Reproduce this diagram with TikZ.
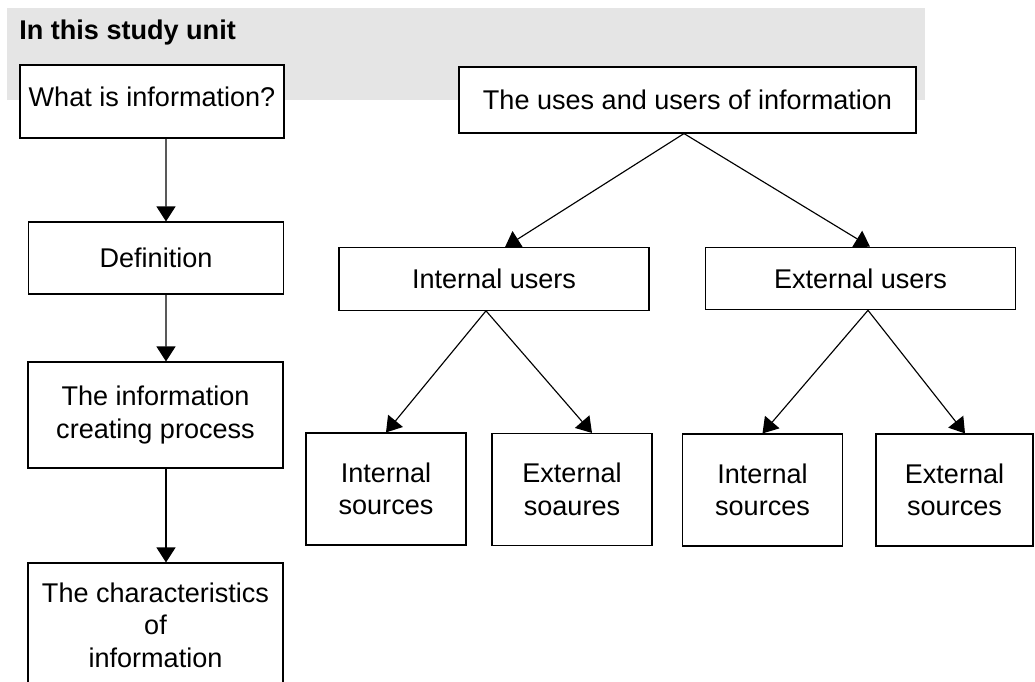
\documentclass[tikz,border=0pt]{standalone}
\usepackage{fontspec}
\setmainfont{Liberation Sans}
\usetikzlibrary{arrows.meta}
\definecolor{bannergray}{RGB}{229,229,229}
\tikzset{
  box/.style={draw, fill=white, line width=0.65pt, inner sep=0pt, align=center,
    font=\fontsize{15.4}{18.5}\selectfont},
  leftbox/.style={box, minimum width=5.1cm},
  userbox/.style={box, minimum width=6.2cm, minimum height=1.25cm},
  srcbox/.style={box, minimum width=3.2cm, minimum height=2.24cm},
  arr/.style={line width=0.65pt, -{Triangle[length=0.3cm, width=0.38cm]}}
}
\begin{document}
\begin{tikzpicture}[x=0.02cm, y=-0.02cm]
  \clip (0,0) rectangle (1035,682);
  \fill[bannergray] (7,8) rectangle (925,100);
  \node[anchor=base west, inner sep=0pt, font=\fontsize{15.4}{18.5}\selectfont\bfseries] (title) at (19,40) {In this study unit};

  % left column
  \node[box, minimum width=5.28cm, minimum height=1.46cm] (what) at (152,101.5) {What is information?\rule[-0.2cm]{0pt}{0pt}};
  \node[leftbox, minimum height=1.44cm] (defn) at (156,258) {Definition};
  \node[leftbox, minimum height=2.12cm] (create) at (155.5,415) {The information\\creating process};
  \node[leftbox, minimum height=2.48cm] (charac) at (155.5,625) {The characteristics\\of\\information};

  \draw[arr] ([xshift=0.28cm]what.south) -- ([xshift=0.2cm]defn.north);
  \draw[arr] ([xshift=0.2cm]defn.south) -- ([xshift=0.21cm]create.north);
  \draw[arr] ([xshift=0.21cm]create.south) -- ([xshift=0.21cm]charac.north);

  % right tree
  \node[box, minimum width=9.14cm, minimum height=1.32cm] (uses) at (687.5,100) {The uses and users of information};
  \node[userbox] (intusers) at (494,279) {Internal users};
  \node[userbox] (extusers) at (860.5,278.5) {External users};

  \node[srcbox] (intsrcA) at (386,489) {Internal\\sources};
  \node[srcbox] (extsrcA) at (572,489.5) {External\\soaures};
  \node[srcbox] (intsrcB) at (762.5,490) {Internal\\sources};
  \node[srcbox, minimum width=3.14cm] (extsrcB) at (954.5,490) {External\\sources};

  \draw[arr] ([xshift=-0.07cm]uses.south) -- ([xshift=0.22cm]intusers.north);
  \draw[arr] ([xshift=-0.07cm]uses.south) -- ([xshift=0.19cm]extusers.north);
  \draw[arr] ([xshift=-0.16cm]intusers.south) -- (intsrcA.north);
  \draw[arr] ([xshift=-0.16cm]intusers.south) -- ([xshift=0.4cm]extsrcA.north);
  \draw[arr] ([xshift=0.15cm]extusers.south) -- (intsrcB.north);
  \draw[arr] ([xshift=0.15cm]extusers.south) -- ([xshift=0.21cm]extsrcB.north);
\end{tikzpicture}
\end{document}
